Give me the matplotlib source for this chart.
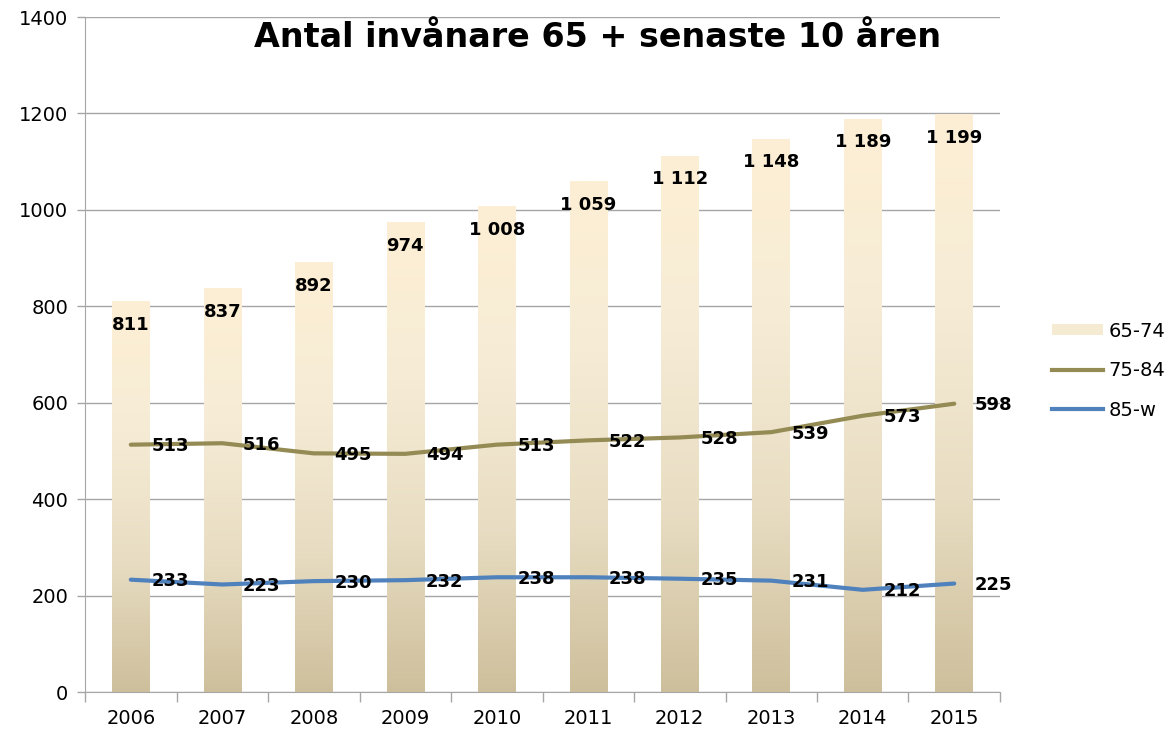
#!/usr/bin/env python
"""Antal invånare 65+ senaste 10 åren: bars for 65-74, lines for 75-84 and 85-w."""

import matplotlib

matplotlib.use("Agg")

import matplotlib.pyplot as plt
import numpy as np
from matplotlib.colors import LinearSegmentedColormap
from matplotlib.lines import Line2D
from matplotlib.patches import Patch

YEARS = ["2006", "2007", "2008", "2009", "2010", "2011", "2012", "2013", "2014", "2015"]
AGE_65_74 = [811, 837, 892, 974, 1008, 1059, 1112, 1148, 1189, 1199]
AGE_75_84 = [513, 516, 495, 494, 513, 522, 528, 539, 573, 598]
AGE_85_W = [233, 223, 230, 232, 238, 238, 235, 231, 212, 225]

COLOR_75 = "#948A54"
COLOR_85 = "#4F81BD"
GRID = "#A6A6A6"

plt.rcParams["font.family"] = ["DejaVu Sans"]


def fmt(value: int) -> str:
    return f"{value:,}".replace(",", " ")


def main() -> None:
    fig = plt.figure(figsize=(11.73, 7.34), dpi=100)
    ax = fig.add_axes([0.0725, 0.0572, 0.78, 0.9196])

    x = np.arange(len(YEARS))
    width = 0.41

    bar_cmap = LinearSegmentedColormap.from_list(
        "bar", ["#CEBF9C", "#E8DDC2", "#F6ECD6", "#FDEFD4"]
    )
    gradient = np.linspace(0, 1, 256).reshape(-1, 1)
    bars = ax.bar(x, AGE_65_74, width=width, color="none", edgecolor="none", zorder=2)
    for bar in bars:
        x0 = bar.get_x()
        h = bar.get_height()
        img = ax.imshow(
            gradient,
            cmap=bar_cmap,
            origin="lower",
            extent=(x0, x0 + bar.get_width(), 0, h),
            aspect="auto",
            zorder=2,
        )
        img.set_clip_path(bar)

    for xi, v in zip(x, AGE_65_74):
        ax.annotate(fmt(v), (xi, v), xytext=(0, -17), textcoords="offset points",
                    ha="center", va="center", fontsize=13, fontweight="bold", zorder=5)

    ax.plot(x, AGE_75_84, color=COLOR_75, lw=3, solid_joinstyle="round",
            solid_capstyle="round", zorder=3)
    ax.plot(x, AGE_85_W, color=COLOR_85, lw=3, solid_joinstyle="round",
            solid_capstyle="round", zorder=3)
    for series in (AGE_75_84, AGE_85_W):
        for xi, v in zip(x, series):
            ax.annotate(fmt(v), (xi, v), xytext=(15, -1), textcoords="offset points",
                        ha="left", va="center", fontsize=13, fontweight="bold", zorder=5)

    ax.set_xlim(-0.5, len(YEARS) - 0.5)
    ax.set_ylim(0, 1400)
    ax.set_yticks(range(0, 1401, 200))
    ax.set_yticklabels([str(t) for t in range(0, 1401, 200)])
    ax.set_xticks(x)
    ax.set_xticklabels(YEARS)
    ax.set_xticks(np.arange(-0.5, len(YEARS), 1), minor=True)
    ax.tick_params(axis="x", which="major", length=0, pad=12, labelsize=14)
    ax.tick_params(axis="x", which="minor", length=7, color=GRID, width=1)
    ax.tick_params(axis="y", length=6, color=GRID, width=1, labelsize=14, pad=6)
    ax.yaxis.grid(True, color=GRID, lw=1)
    ax.set_axisbelow(True)
    for side in ("top", "right"):
        ax.spines[side].set_visible(False)
    for side in ("left", "bottom"):
        ax.spines[side].set_color(GRID)

    ax.text(0.56, 0.97, "Antal invånare 65 + senaste 10 åren", transform=ax.transAxes,
            ha="center", va="center", fontsize=24, fontweight="bold")

    handles = [
        Patch(facecolor="#F5EAD2", edgecolor="none"),
        Line2D([0], [0], color=COLOR_75, lw=3),
        Line2D([0], [0], color=COLOR_85, lw=3),
    ]
    fig.legend(handles, ["65-74", "75-84", "85-w"], loc="center left",
               bbox_to_anchor=(0.882, 0.495), frameon=False, fontsize=14,
               labelspacing=1.05, handlelength=2.6, handleheight=0.5,
               handletextpad=0.3)

    fig.savefig("out.png", dpi=100)
    plt.close(fig)


if __name__ == "__main__":
    main()
